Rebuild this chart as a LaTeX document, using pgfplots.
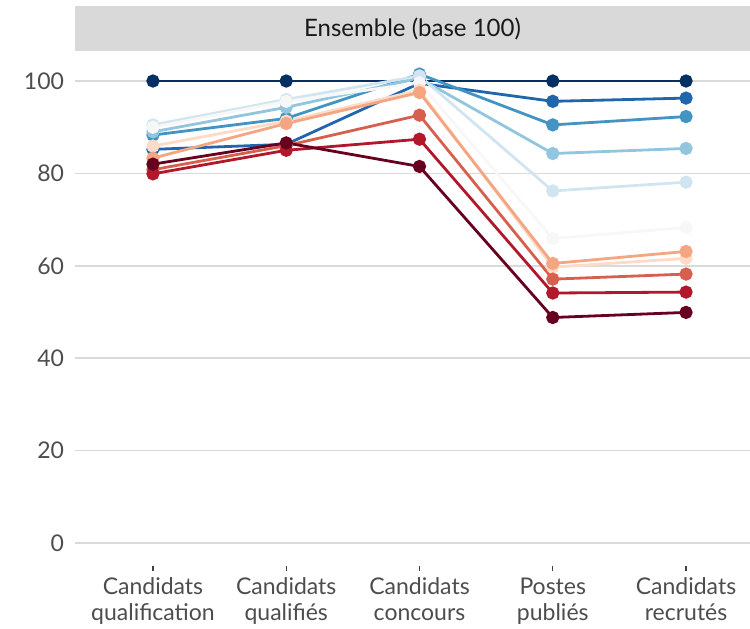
\documentclass[border=0pt]{standalone}
\usepackage{fontspec}
\setmainfont{Lato}
\usepackage{pgfplots}
\pgfplotsset{compat=1.18}

\definecolor{rb1}{HTML}{67001F}
\definecolor{rb2}{HTML}{B2182B}
\definecolor{rb3}{HTML}{D6604D}
\definecolor{rb4}{HTML}{F4A582}
\definecolor{rb5}{HTML}{FDDBC7}
\definecolor{rb6}{HTML}{F7F7F7}
\definecolor{rb7}{HTML}{D1E5F0}
\definecolor{rb8}{HTML}{92C5DE}
\definecolor{rb9}{HTML}{4393C3}
\definecolor{rb10}{HTML}{2166AC}
\definecolor{rb11}{HTML}{053061}
\definecolor{gridc}{HTML}{DADADA}
\definecolor{stripc}{HTML}{D9D9D9}
\definecolor{labc}{HTML}{4D4D4D}

\pgfplotsset{
  serie/.style={color=#1, line width=1.4pt, mark=*, mark size=2.6pt,
    mark options={fill=#1, draw=#1}},
}

\begin{document}
\begin{tikzpicture}
\begin{axis}[
    name=ax,
    scale only axis,
    width=337.5pt, height=257.5pt,
    xmin=-0.585, xmax=4.48,
    ymin=-5, ymax=106.5,
    clip=false,
    axis line style={draw=none},
    xtick={0,1,2,3,4},
    xticklabels={{Candidats\\qualification},{Candidats\\qualifiés},{Candidats\\concours},{Postes\\publiés},{Candidats\\recrutés}},
    ytick={0,20,40,60,80,100},
    xtick pos=lower, ytick pos=left,
    tick align=outside,
    major tick length=2.5pt,
    x tick style={draw=black!75, line width=0.6pt},
    y tick style={draw=none},
    ymajorgrids,
    major grid style={gridc, line width=0.8pt},
    /pgf/number format/assume math mode=true,
    tick label style={font=\fontsize{11.5}{13}\selectfont, text=labc},
    xticklabel style={align=center},
    yticklabel style={xshift=0.5pt},
  ]
  \fill[stripc] (rel axis cs:0,1) rectangle ([yshift=22.5pt]rel axis cs:1,1);
  \node[text=black!90, font=\fontsize{12}{14}\selectfont] at ([yshift=11.25pt]rel axis cs:0.5,1) {Ensemble (base 100)};

  \addplot[serie=rb11] coordinates {(0,100) (1,100) (2,100) (3,100) (4,100)};
  \addplot[serie=rb10] coordinates {(0,85.2) (1,86.3) (2,99.5) (3,95.6) (4,96.3)};
  \addplot[serie=rb9]  coordinates {(0,88.3) (1,91.9) (2,101.5) (3,90.5) (4,92.3)};
  \addplot[serie=rb8]  coordinates {(0,89.0) (1,94.3) (2,100.6) (3,84.3) (4,85.4)};
  \addplot[serie=rb7]  coordinates {(0,90.5) (1,96.0) (2,101.1) (3,76.2) (4,78.1)};
  \addplot[serie=rb6]  coordinates {(0,90.0) (1,95.6) (2,99.6) (3,65.9) (4,68.3)};
  \addplot[serie=rb5]  coordinates {(0,85.9) (1,91.3) (2,98.0) (3,59.7) (4,61.6)};
  \addplot[serie=rb4]  coordinates {(0,83.3) (1,90.8) (2,97.5) (3,60.5) (4,63.1)};
  \addplot[serie=rb3]  coordinates {(0,80.8) (1,86.0) (2,92.6) (3,57.1) (4,58.2)};
  \addplot[serie=rb2]  coordinates {(0,79.9) (1,85.0) (2,87.4) (3,54.1) (4,54.3)};
  \addplot[serie=rb1]  coordinates {(0,82.0) (1,86.6) (2,81.5) (3,48.8) (4,49.9)};
\end{axis}
\pgfresetboundingbox
\path ([xshift=-37.5pt,yshift=-31.5pt]ax.south west) rectangle ([yshift=25.5pt]ax.north east);
\end{tikzpicture}
\end{document}
